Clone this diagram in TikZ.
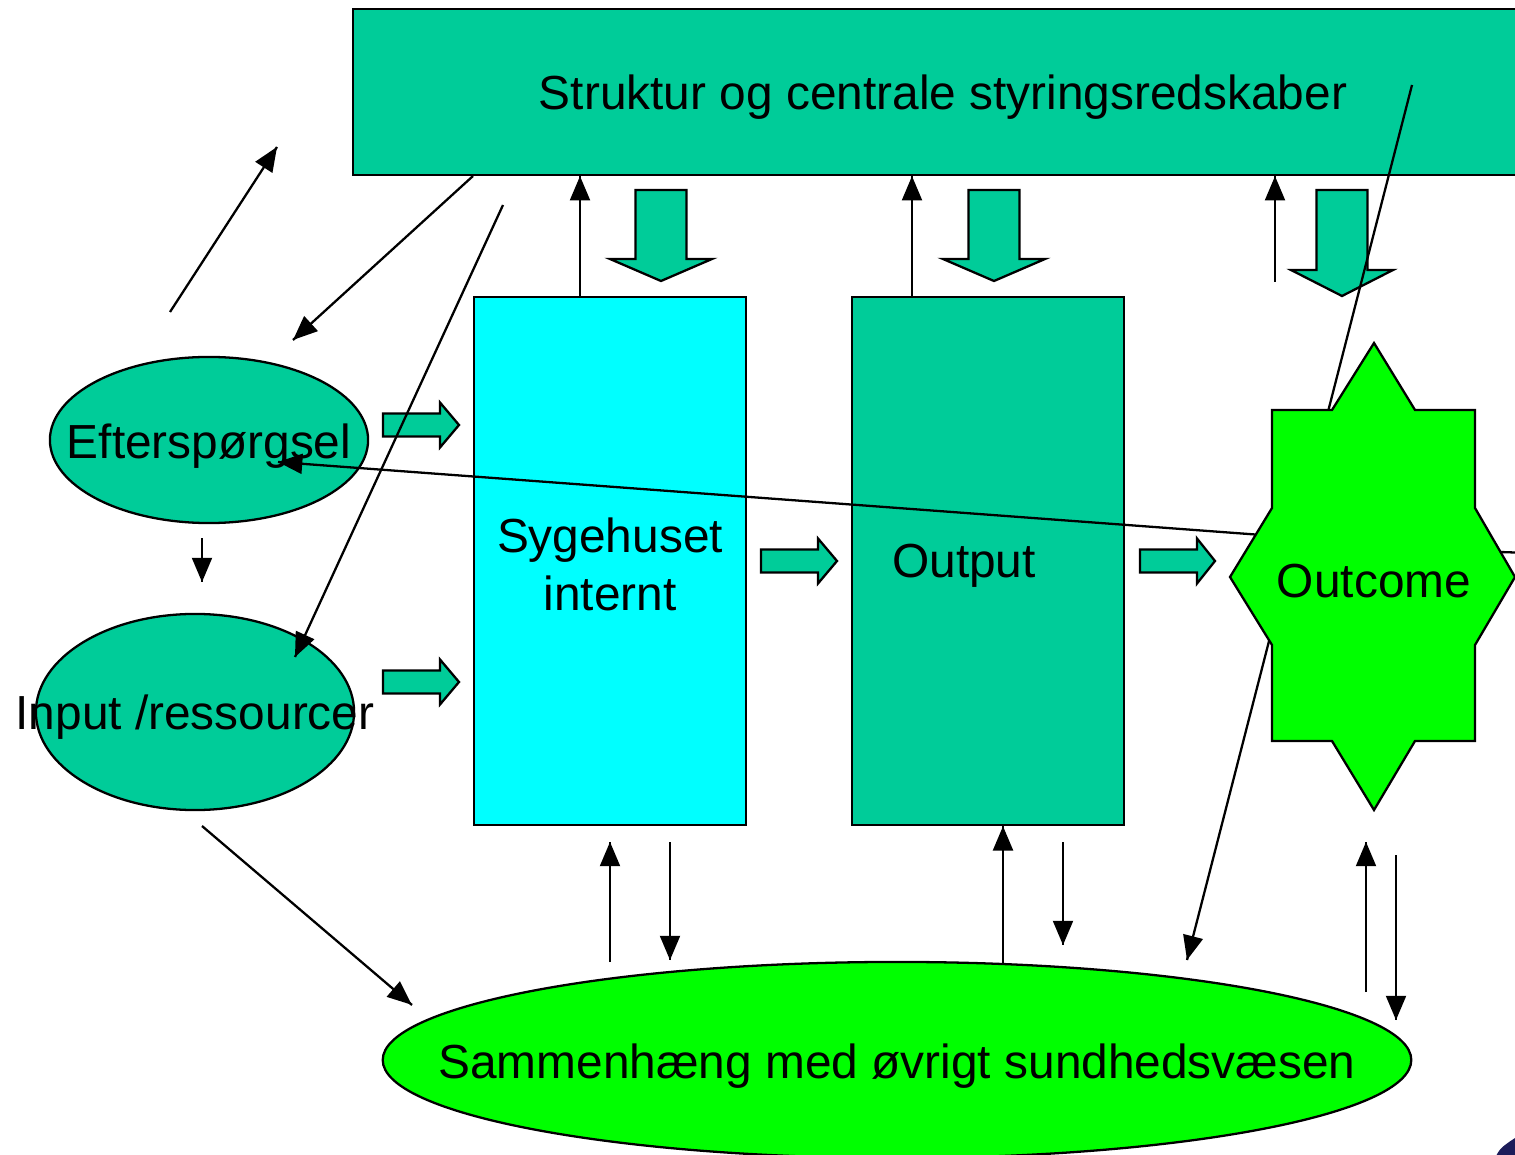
\documentclass[tikz,border=0pt]{standalone}
\usepackage{fontspec}
\setmainfont{Liberation Sans}
\usetikzlibrary{arrows}
\usetikzlibrary{decorations.markings}
\usetikzlibrary{shapes.geometric}
\usetikzlibrary{positioning}
\definecolor{sea}{HTML}{00CC99}
\definecolor{aqua}{HTML}{00FFFF}
\definecolor{grass}{HTML}{00FF00}
\definecolor{navyblob}{HTML}{1C1C5A}
\tikzset{->/.style = {decoration={markings,
                                  mark=at position 1 with {\arrow[scale=0.95]{triangle 45}}},
                      postaction={decorate}}}
\tikzset{box/.style = {draw, rectangle, inner sep = 0}}
\tikzset{oval/.style = {draw, ellipse, inner sep = 0}}
\tikzset{txt/.style = {font=\fontsize{13.6}{16.5}\selectfont, align=center}}
% fat block arrow: start, angle, shaft length, total length, shaft half width, head half width
\newcommand\fatarrow[6]{%
  \draw[fill=sea, shift={#1}, rotate=#2] (0,-#5) -- (#3,-#5) -- (#3,-#6) -- (#4,0)
    -- (#3,#6) -- (#3,#5) -- (0,#5) -- cycle;}

\begin{document}
\begin{tikzpicture}[x=0.01cm, y=-0.01cm, line width=0.65pt]
  \useasboundingbox (0,0) rectangle (1515,1155);
  \clip (0,0) rectangle (1515,1155);

  % boxes and ellipses
  \node[box, fill=sea, minimum width=11.82cm, minimum height=1.66cm] (struk) at (944,92) {};
  \node[txt] (strukt) at (943,97) {Struktur og centrale styringsredskaber};
  \node[box, fill=aqua, minimum width=2.72cm, minimum height=5.28cm] (syg) at (610,561) {};
  \node[txt] (sygt) at (610,564) {Sygehuset\\internt};
  \node[box, fill=sea, minimum width=2.72cm, minimum height=5.28cm] (outp) at (988,561) {};
  \node[txt] (outpt) at (964,566) {Output};
  \node[oval, fill=sea, minimum width=3.18cm, minimum height=1.66cm] (eft) at (209,440) {};
  \node[txt] (eftt) at (209,446) {Efterspørgsel};
  \node[oval, fill=sea, minimum width=3.18cm, minimum height=1.96cm] (inp) at (195,712) {};
  \node[txt] (inpt) at (195,717) {Input /ressourcer};
  \node[oval, fill=grass, minimum width=10.28cm, minimum height=1.96cm] (sam) at (897,1060) {};
  \node[txt] (samt) at (897,1066) {Sammenhæng med øvrigt sundhedsvæsen};

  % block arrows
  \fatarrow{(661,190)}{-90}{69}{91}{25.5}{51}
  \fatarrow{(994,190)}{-90}{69}{91}{25.5}{51}
  \fatarrow{(1342,190)}{-90}{80}{106}{25.5}{51}
  \fatarrow{(383,425)}{0}{57}{76}{11.5}{22.5}
  \fatarrow{(383,682)}{0}{57}{76}{11.5}{22.5}
  \fatarrow{(761,561)}{0}{57}{76}{11.5}{22.5}
  \fatarrow{(1140,561)}{0}{57}{75}{11.5}{22.5}

  % loose ends of the thin arrows
  \coordinate (l1) at (170,312);
  \coordinate (l2) at (277,147);
  \coordinate (l3) at (473,176);
  \coordinate (l4) at (293,340);
  \coordinate (l5) at (503,205);
  \coordinate (l6) at (295,657);
  \coordinate (l7) at (1275,282);
  \coordinate (l8) at (1412,85);
  \coordinate (l9) at (1187,960);
  \coordinate (o1) at (1262,535);
  \coordinate (o2) at (278,462);
  \coordinate (o3) at (1500,552);
  \coordinate (o4) at (1530,553);
  \coordinate (e1) at (202,538);
  \coordinate (e2) at (202,582);
  \coordinate (i1) at (202,826);
  \coordinate (i2) at (412,1005);
  \coordinate (b1) at (610,962);
  \coordinate (b2) at (610,842);
  \coordinate (b3) at (670,842);
  \coordinate (b4) at (670,960);
  \coordinate (b5) at (1003,963);
  \coordinate (b6) at (1063,842);
  \coordinate (b7) at (1063,945);
  \coordinate (b8) at (1366,992);
  \coordinate (b9) at (1366,842);
  \coordinate (b10) at (1396,855);
  \coordinate (b11) at (1396,1020);

  \draw [->] (l1) -- (l2);
  \draw [->] (l3) -- (l4);
  \draw [->] (l5) -- (l6);
  \draw [->] (580,0 |- syg.north) -- (580,0 |- struk.south);
  \draw [->] (912,0 |- outp.north) -- (912,0 |- struk.south);
  \draw [->] (l7) -- (l7 |- struk.south);
  \draw [->] (l8) -- (l9);
  \draw [->] (o1) -- (o2);
  \draw (o3) -- (o4);
  \draw [->] (e1) -- (e2);
  \draw [->] (i1) -- (i2);
  \draw [->] (b1) -- (b2);
  \draw [->] (b3) -- (b4);
  \draw [->] (b5) -- (b5 |- outp.south);
  \draw [->] (b6) -- (b7);
  \draw [->] (b8) -- (b9);
  \draw [->] (b10) -- (b11);

  % outcome star
  \draw [fill=grass] (1272,410) -- (1332,410) -- (1374,343) -- (1415,410) -- (1475,410)
    -- (1475,508) -- (1515,577) -- (1475,645) -- (1475,741) -- (1415,741) -- (1374,810)
    -- (1332,741) -- (1272,741) -- (1272,645) -- (1230,577) -- (1272,508) -- cycle;
  \node[txt] (outc) at (1374,581) {Outcome};

  \fill [navyblob] (1494,1160) .. controls (1500,1148) .. (1518,1136) -- (1520,1160) -- cycle;
\end{tikzpicture}
\end{document}
